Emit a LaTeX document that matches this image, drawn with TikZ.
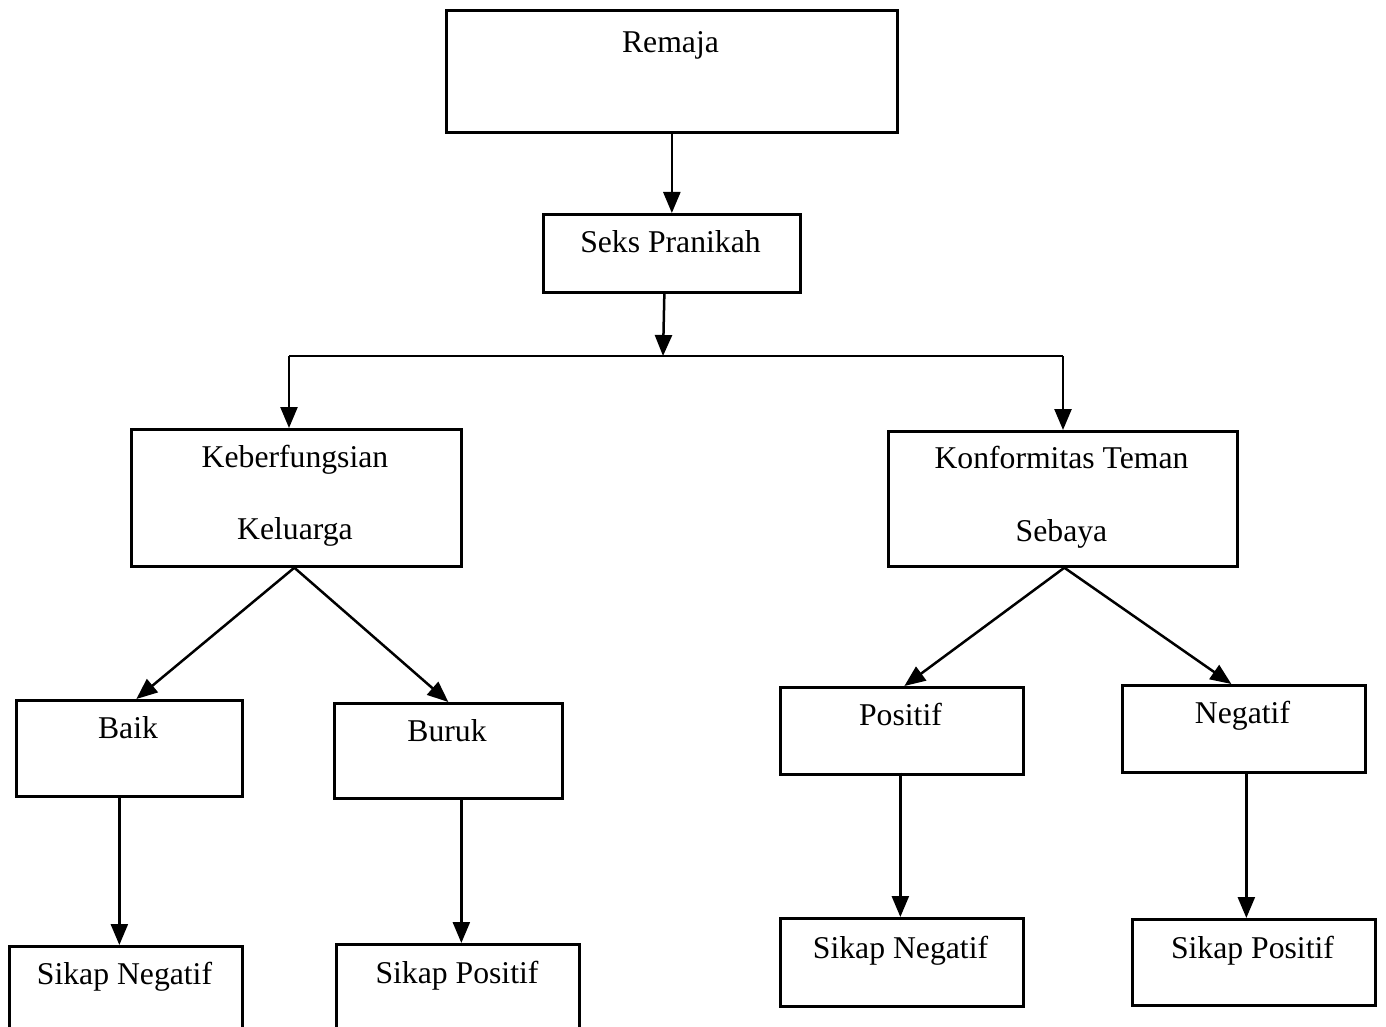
\documentclass[tikz,border=0pt]{standalone}
\usepackage{fontspec}
\setmainfont{Liberation Serif}
\usetikzlibrary{arrows.meta,calc}
\begin{document}
\begin{tikzpicture}[x=1pt,y=-1pt,
  box/.style={draw, line width=2.7pt, anchor=north west, inner sep=0pt},
  lbl/.style={anchor=base, inner sep=0pt, font=\fontsize{31.7}{38}\selectfont},
  arr/.style={line width=2.5pt, -{Triangle[length=21pt,width=17pt]}},
  thinline/.style={line width=1.4pt}
]
\clip (0,0) rectangle (1386,1027);
% boxes
\node[box, minimum width=451, minimum height=122] (remaja) at (445,9) {};
\node[box, minimum width=257, minimum height=78] (seks) at (542,213) {};
\node[box, minimum width=330, minimum height=137] (kel) at (130,428) {};
\node[box, minimum width=349, minimum height=135] (konf) at (887,430) {};
\node[box, minimum width=226, minimum height=96] (baik) at (15,699) {};
\node[box, minimum width=228, minimum height=95] (buruk) at (333,702) {};
\node[box, minimum width=243, minimum height=87] (pos) at (779,686) {};
\node[box, minimum width=243, minimum height=87] (neg) at (1121,684) {};
\node[box, minimum width=233, minimum height=120] (sn1) at (8,945) {};
\node[box, minimum width=243, minimum height=120] (sp1) at (335,943) {};
\node[box, minimum width=243, minimum height=88] (sn2) at (779,917) {};
\node[box, minimum width=243, minimum height=86] (sp2) at (1131,918) {};
% texts
\node[lbl] (tremaja) at (670.5,53) {Remaja};
\node[lbl] (tseks) at (670.5,252) {Seks Pranikah};
\node[lbl] (tkel1) at (295,467) {Keberfungsian};
\node[lbl] (tkel2) at (295,539) {Keluarga};
\node[lbl] (tkonf1) at (1061.5,468) {Konformitas Teman};
\node[lbl] (tkonf2) at (1061.5,541) {Sebaya};
\node[lbl] (tbaik) at (128,738) {Baik};
\node[lbl] (tburuk) at (447,741) {Buruk};
\node[lbl] (tpos) at (900.5,725) {Positif};
\node[lbl] (tneg) at (1242.5,723) {Negatif};
\node[lbl] (tsn1) at (124.5,984) {Sikap Negatif};
\node[lbl] (tsp1) at (457,983) {Sikap Positif};
\node[lbl] (tsn2) at (900.5,958) {Sikap Negatif};
\node[lbl] (tsp2) at (1252.5,958) {Sikap Positif};
% connectors
\coordinate (junction) at (663,356);
\coordinate (jl) at (289,356);
\coordinate (jr) at (1063,356);
\draw[arr] (remaja.south) -- (seks.north);
\draw[arr] ($(seks.south)+(-7.5,0)$) -- (junction);
\draw[thinline] (jl) -- (jr);
\draw[arr] (jl) -- (jl |- kel.north);
\draw[arr] (jr) -- (jr |- konf.north);
\draw[arr] ($(kel.south)+(-2,0)$) -- ($(baik.north)+(7,0)$);
\draw[arr] ($(kel.south)+(-2,0)$) -- (buruk.north);
\draw[arr] ($(konf.south)+(1.5,0)$) -- ($(pos.north)+(2.5,0)$);
\draw[arr] ($(konf.south)+(1.5,0)$) -- ($(neg.north)+(-12.5,0)$);
\draw[arr] ($(baik.south)+(-10,0)$) -- ($(sn1.north)+(-6.5,0)$);
\draw[arr] ($(buruk.south)+(13,0)$) -- ($(sp1.north)+(3.5,0)$);
\draw[arr] ($(pos.south)+(-1.5,-3)$) -- ($(sn2.north)+(-1.5,0)$);
\draw[arr] ($(neg.south)+(2.5,0)$) -- ($(sp2.north)+(-7.5,0)$);
\end{tikzpicture}
\end{document}
